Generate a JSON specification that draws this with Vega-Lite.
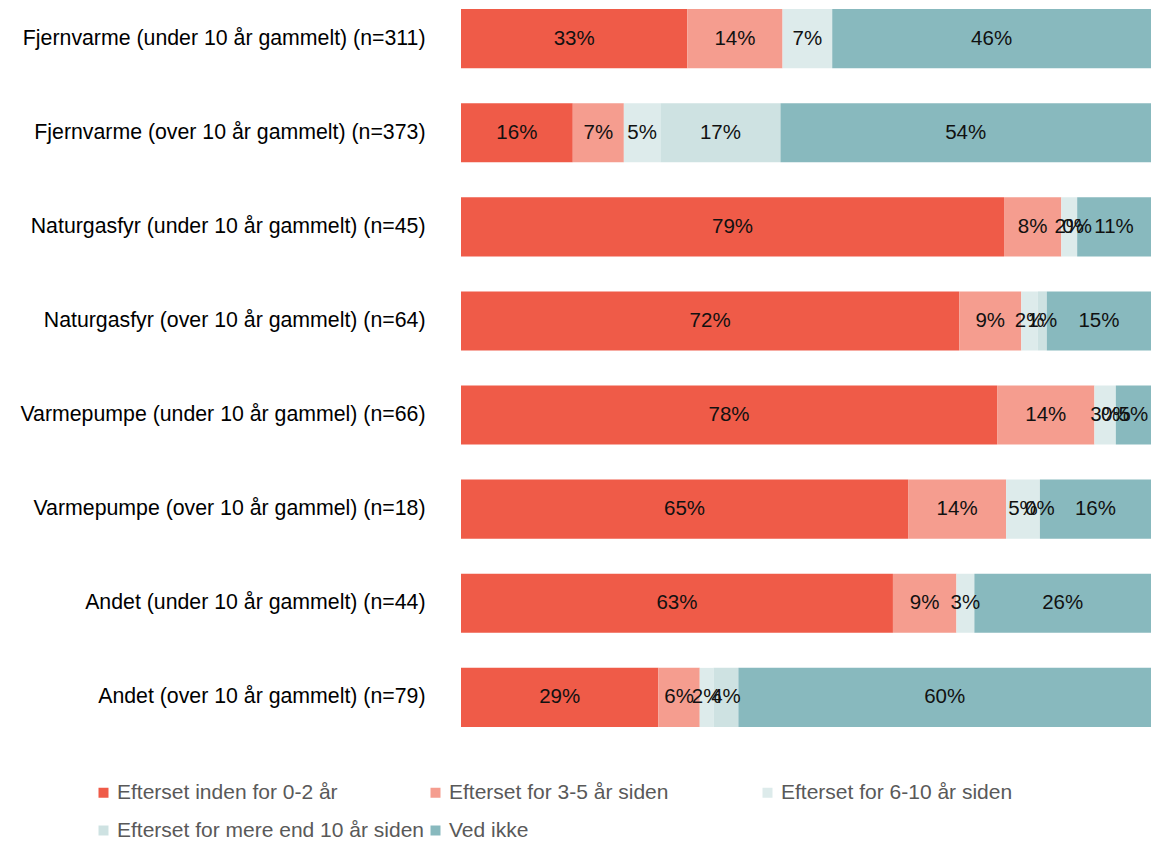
{
  "$schema": "https://vega.github.io/schema/vega-lite/v6.json",
  "autosize": {"type": "none"},
  "width": 690,
  "height": 736,
  "padding": {"left": 461, "top": 0, "right": 15, "bottom": 106},
  "background": "white",
  "config": {"view": {"stroke": null}, "font": "Liberation Sans"},
  "data": {"values": [
    {"cat": "Fjernvarme (under 10 år gammelt) (n=311)", "s": "Efterset inden for 0-2 år", "k": 1, "v": 0.328},
    {"cat": "Fjernvarme (under 10 år gammelt) (n=311)", "s": "Efterset for 3-5 år siden", "k": 2, "v": 0.138},
    {"cat": "Fjernvarme (under 10 år gammelt) (n=311)", "s": "Efterset for 6-10 år siden", "k": 3, "v": 0.072},
    {"cat": "Fjernvarme (under 10 år gammelt) (n=311)", "s": "Ved ikke", "k": 5, "v": 0.462},

    {"cat": "Fjernvarme (over 10 år gammelt) (n=373)", "s": "Efterset inden for 0-2 år", "k": 1, "v": 0.162},
    {"cat": "Fjernvarme (over 10 år gammelt) (n=373)", "s": "Efterset for 3-5 år siden", "k": 2, "v": 0.074},
    {"cat": "Fjernvarme (over 10 år gammelt) (n=373)", "s": "Efterset for 6-10 år siden", "k": 3, "v": 0.053},
    {"cat": "Fjernvarme (over 10 år gammelt) (n=373)", "s": "Efterset for mere end 10 år siden", "k": 4, "v": 0.174},
    {"cat": "Fjernvarme (over 10 år gammelt) (n=373)", "s": "Ved ikke", "k": 5, "v": 0.537},

    {"cat": "Naturgasfyr (under 10 år gammelt) (n=45)", "s": "Efterset inden for 0-2 år", "k": 1, "v": 0.787},
    {"cat": "Naturgasfyr (under 10 år gammelt) (n=45)", "s": "Efterset for 3-5 år siden", "k": 2, "v": 0.083},
    {"cat": "Naturgasfyr (under 10 år gammelt) (n=45)", "s": "Efterset for 6-10 år siden", "k": 3, "v": 0.023},
    {"cat": "Naturgasfyr (under 10 år gammelt) (n=45)", "s": "Efterset for mere end 10 år siden", "k": 4, "v": 0},
    {"cat": "Naturgasfyr (under 10 år gammelt) (n=45)", "s": "Ved ikke", "k": 5, "v": 0.107},

    {"cat": "Naturgasfyr (over 10 år gammelt) (n=64)", "s": "Efterset inden for 0-2 år", "k": 1, "v": 0.722},
    {"cat": "Naturgasfyr (over 10 år gammelt) (n=64)", "s": "Efterset for 3-5 år siden", "k": 2, "v": 0.090},
    {"cat": "Naturgasfyr (over 10 år gammelt) (n=64)", "s": "Efterset for 6-10 år siden", "k": 3, "v": 0.024},
    {"cat": "Naturgasfyr (over 10 år gammelt) (n=64)", "s": "Efterset for mere end 10 år siden", "k": 4, "v": 0.013},
    {"cat": "Naturgasfyr (over 10 år gammelt) (n=64)", "s": "Ved ikke", "k": 5, "v": 0.151},

    {"cat": "Varmepumpe (under 10 år gammel) (n=66)", "s": "Efterset inden for 0-2 år", "k": 1, "v": 0.777},
    {"cat": "Varmepumpe (under 10 år gammel) (n=66)", "s": "Efterset for 3-5 år siden", "k": 2, "v": 0.141},
    {"cat": "Varmepumpe (under 10 år gammel) (n=66)", "s": "Efterset for 6-10 år siden", "k": 3, "v": 0.031},
    {"cat": "Varmepumpe (under 10 år gammel) (n=66)", "s": "Efterset for mere end 10 år siden", "k": 4, "v": 0},
    {"cat": "Varmepumpe (under 10 år gammel) (n=66)", "s": "Ved ikke", "k": 5, "v": 0.051},

    {"cat": "Varmepumpe (over 10 år gammel) (n=18)", "s": "Efterset inden for 0-2 år", "k": 1, "v": 0.648},
    {"cat": "Varmepumpe (over 10 år gammel) (n=18)", "s": "Efterset for 3-5 år siden", "k": 2, "v": 0.142},
    {"cat": "Varmepumpe (over 10 år gammel) (n=18)", "s": "Efterset for 6-10 år siden", "k": 3, "v": 0.049},
    {"cat": "Varmepumpe (over 10 år gammel) (n=18)", "s": "Efterset for mere end 10 år siden", "k": 4, "v": 0},
    {"cat": "Varmepumpe (over 10 år gammel) (n=18)", "s": "Ved ikke", "k": 5, "v": 0.161},

    {"cat": "Andet (under 10 år gammelt) (n=44)", "s": "Efterset inden for 0-2 år", "k": 1, "v": 0.626},
    {"cat": "Andet (under 10 år gammelt) (n=44)", "s": "Efterset for 3-5 år siden", "k": 2, "v": 0.092},
    {"cat": "Andet (under 10 år gammelt) (n=44)", "s": "Efterset for 6-10 år siden", "k": 3, "v": 0.026},
    {"cat": "Andet (under 10 år gammelt) (n=44)", "s": "Ved ikke", "k": 5, "v": 0.256},

    {"cat": "Andet (over 10 år gammelt) (n=79)", "s": "Efterset inden for 0-2 år", "k": 1, "v": 0.286},
    {"cat": "Andet (over 10 år gammelt) (n=79)", "s": "Efterset for 3-5 år siden", "k": 2, "v": 0.060},
    {"cat": "Andet (over 10 år gammelt) (n=79)", "s": "Efterset for 6-10 år siden", "k": 3, "v": 0.020},
    {"cat": "Andet (over 10 år gammelt) (n=79)", "s": "Efterset for mere end 10 år siden", "k": 4, "v": 0.036},
    {"cat": "Andet (over 10 år gammelt) (n=79)", "s": "Ved ikke", "k": 5, "v": 0.598}
  ]},
  "transform": [
    {"stack": "v", "groupby": ["cat"], "sort": [{"field": "k", "order": "ascending"}], "as": ["v0", "v1"]},
    {"calculate": "(datum.v0 + datum.v1) / 2", "as": "mid"}
  ],
  "encoding": {
    "y": {
      "field": "cat", "type": "nominal",
      "sort": [
        "Fjernvarme (under 10 år gammelt) (n=311)",
        "Fjernvarme (over 10 år gammelt) (n=373)",
        "Naturgasfyr (under 10 år gammelt) (n=45)",
        "Naturgasfyr (over 10 år gammelt) (n=64)",
        "Varmepumpe (under 10 år gammel) (n=66)",
        "Varmepumpe (over 10 år gammel) (n=18)",
        "Andet (under 10 år gammelt) (n=44)",
        "Andet (over 10 år gammelt) (n=79)"
      ],
      "scale": {"paddingInner": 0.372, "paddingOuter": 0.096},
      "axis": {"title": null, "domain": false, "ticks": false, "labelFontSize": 21.3, "labelColor": "#000000", "labelPadding": 36, "labelLimit": 460, "labelFont": "Liberation Sans"}
    }
  },
  "layer": [
    {
      "mark": {"type": "bar"},
      "encoding": {
        "x": {"field": "v0", "type": "quantitative", "scale": {"domain": [0, 1], "nice": false, "zero": true}, "axis": null},
        "x2": {"field": "v1"},
        "color": {
          "field": "s", "type": "nominal",
          "scale": {
            "domain": ["Efterset inden for 0-2 år", "Efterset for 3-5 år siden", "Efterset for 6-10 år siden", "Efterset for mere end 10 år siden", "Ved ikke"],
            "range": ["#EF5B48", "#F59D8F", "#DDEBEB", "#CEE2E2", "#88B9BE"]
          },
          "legend": {
            "title": null,
            "orient": "none",
            "direction": "horizontal",
            "legendX": -368,
            "legendY": 782,
            "columns": 3,
            "gridAlign": "all",
            "columnPadding": 1,
            "rowPadding": 16,
            "symbolType": "square",
            "symbolSize": 100,
            "symbolStrokeWidth": 0,
            "labelFontSize": 21,
            "labelColor": "#595959",
            "labelOffset": 3,
            "labelLimit": 400,
            "labelFont": "Liberation Sans"
          }
        }
      }
    },
    {
      "mark": {"type": "text", "fontSize": 20.5, "color": "#111111", "align": "center", "baseline": "middle", "font": "Liberation Sans"},
      "encoding": {
        "x": {"field": "mid", "type": "quantitative"},
        "text": {"field": "v", "type": "quantitative", "format": ".0%"}
      }
    }
  ]
}
